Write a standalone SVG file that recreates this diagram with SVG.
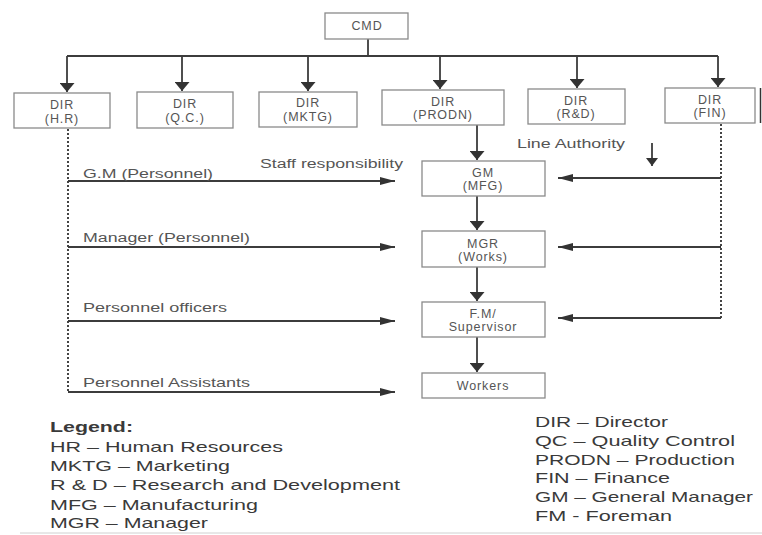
<svg xmlns="http://www.w3.org/2000/svg" width="762" height="535" viewBox="0 0 762 535">
  <style>
    .box { fill: #ffffff; stroke: #8a8a8a; stroke-width: 1.3; }
    .bt { font-family: "Liberation Sans", Arial, sans-serif; font-size: 12.5px; fill: #555; text-anchor: middle; letter-spacing: 0.9px; }
    .lbl { font-family: "Liberation Sans", Arial, sans-serif; font-size: 12px; fill: #555; }
    .leg { font-family: "Liberation Sans", Arial, sans-serif; font-size: 14.5px; fill: #3a3a3a; }
    .line { stroke: #3c3c3c; stroke-width: 1.8; fill: none; }
    .dot { stroke: #444; stroke-width: 2; stroke-dasharray: 2 2; fill: none; }
  </style>
  <defs>
    <marker id="down" markerUnits="userSpaceOnUse" viewBox="0 0 9 15" markerWidth="9" markerHeight="15" refX="9" refY="7.5" orient="auto">
      <path d="M0,0 L9,7.5 L0,15 z" fill="#333"/>
    </marker>
    <marker id="side" markerUnits="userSpaceOnUse" viewBox="0 0 15 8" markerWidth="15" markerHeight="8" refX="15" refY="4" orient="auto">
      <path d="M0,0 L15,4 L0,8 z" fill="#333"/>
    </marker>
    <marker id="small" markerUnits="userSpaceOnUse" viewBox="0 0 8 12" markerWidth="8" markerHeight="12" refX="8" refY="6" orient="auto">
      <path d="M0,0 L8,6 L0,12 z" fill="#333"/>
    </marker>
  </defs>

  <rect width="762" height="535" fill="#ffffff"/>

  <!-- connectors -->
  <g id="connectors">
    <!-- CMD to directors -->
    <line class="line" x1="368" y1="39" x2="368" y2="56"/>
    <line class="line" x1="67" y1="56" x2="718" y2="56"/>
    <line class="line" x1="67" y1="56" x2="67" y2="92" marker-end="url(#down)"/>
    <line class="line" x1="182" y1="56" x2="182" y2="91" marker-end="url(#down)"/>
    <line class="line" x1="308" y1="56" x2="308" y2="91" marker-end="url(#down)"/>
    <line class="line" x1="440" y1="56" x2="440" y2="89" marker-end="url(#down)"/>
    <line class="line" x1="577" y1="56" x2="577" y2="88" marker-end="url(#down)"/>
    <line class="line" x1="718" y1="56" x2="718" y2="87" marker-end="url(#down)"/>

    <!-- line authority chain -->
    <line class="line" x1="477" y1="125" x2="477" y2="160" marker-end="url(#down)"/>
    <line class="line" x1="477" y1="196" x2="477" y2="230" marker-end="url(#down)"/>
    <line class="line" x1="477" y1="267" x2="477" y2="301" marker-end="url(#down)"/>
    <line class="line" x1="477" y1="337" x2="477" y2="372" marker-end="url(#down)"/>
    <line class="line" x1="652" y1="143" x2="652" y2="166" stroke-width="1.5" marker-end="url(#small)"/>

    <!-- staff responsibility from DIR (H.R) -->
    <line class="dot" x1="68" y1="129" x2="68" y2="393"/>
    <line class="line" x1="68" y1="181" x2="395" y2="181" stroke-width="1.6" marker-end="url(#side)"/>
    <line class="line" x1="68" y1="247" x2="395" y2="247" stroke-width="1.6" marker-end="url(#side)"/>
    <line class="line" x1="68" y1="321" x2="395" y2="321" stroke-width="1.6" marker-end="url(#side)"/>
    <line class="line" x1="68" y1="392" x2="395" y2="392" stroke-width="1.6" marker-end="url(#side)"/>

    <!-- finance links -->
    <line class="dot" x1="721" y1="124" x2="721" y2="318"/>
    <line class="line" x1="721" y1="178" x2="558" y2="178" stroke-width="1.6" marker-end="url(#side)"/>
    <line class="line" x1="721" y1="247" x2="558" y2="247" stroke-width="1.6" marker-end="url(#side)"/>
    <line class="line" x1="721" y1="318" x2="558" y2="318" stroke-width="1.6" marker-end="url(#side)"/>
  </g>

  <!-- nodes -->
  <g id="cmd">
    <rect class="box" x="325" y="13" width="83" height="26"/>
    <text class="bt" x="367" y="30" font-size="10">CMD</text>
  </g>
  <g id="dir-hr">
    <rect class="box" x="14" y="93" width="96" height="35"/>
    <text class="bt" x="62" y="109">DIR</text>
    <text class="bt" x="62" y="123">(H.R)</text>
  </g>
  <g id="dir-qc">
    <rect class="box" x="137" y="92" width="96" height="36"/>
    <text class="bt" x="185" y="108">DIR</text>
    <text class="bt" x="185" y="122">(Q.C.)</text>
  </g>
  <g id="dir-mktg">
    <rect class="box" x="259" y="92" width="98" height="35"/>
    <text class="bt" x="308" y="107">DIR</text>
    <text class="bt" x="308" y="121">(MKTG)</text>
  </g>
  <g id="dir-prodn">
    <rect class="box" x="382" y="90" width="122" height="35"/>
    <text class="bt" x="443" y="106">DIR</text>
    <text class="bt" x="443" y="119">(PRODN)</text>
  </g>
  <g id="dir-rd">
    <rect class="box" x="528" y="89" width="97" height="35"/>
    <text class="bt" x="576" y="105">DIR</text>
    <text class="bt" x="576" y="118">(R&amp;D)</text>
  </g>
  <g id="dir-fin">
    <rect class="box" x="665" y="88" width="90" height="35"/>
    <text class="bt" x="710" y="104">DIR</text>
    <text class="bt" x="710" y="117">(FIN)</text>
  </g>
  <g id="gm">
    <rect class="box" x="422" y="161" width="123" height="35"/>
    <text class="bt" x="483" y="177">GM</text>
    <text class="bt" x="483" y="190">(MFG)</text>
  </g>
  <g id="mgr">
    <rect class="box" x="422" y="231" width="123" height="36"/>
    <text class="bt" x="483" y="248">MGR</text>
    <text class="bt" x="483" y="261">(Works)</text>
  </g>
  <g id="fm">
    <rect class="box" x="422" y="302" width="123" height="35"/>
    <text class="bt" x="483" y="318">F.M/</text>
    <text class="bt" x="483" y="331">Supervisor</text>
  </g>
  <g id="workers">
    <rect class="box" x="422" y="373" width="123" height="25"/>
    <text class="bt" x="483" y="390">Workers</text>
  </g>

  <!-- connector labels -->
  <g id="labels">
    <text class="lbl" x="260" y="168" textLength="143" lengthAdjust="spacingAndGlyphs">Staff responsibility</text>
    <text class="lbl" x="517" y="148" textLength="108" lengthAdjust="spacingAndGlyphs">Line Authority</text>
    <text class="lbl" x="83" y="178" textLength="130" lengthAdjust="spacingAndGlyphs">G.M (Personnel)</text>
    <text class="lbl" x="83" y="242" textLength="167" lengthAdjust="spacingAndGlyphs">Manager (Personnel)</text>
    <text class="lbl" x="83" y="312" textLength="144" lengthAdjust="spacingAndGlyphs">Personnel officers</text>
    <text class="lbl" x="83" y="387" textLength="167" lengthAdjust="spacingAndGlyphs">Personnel Assistants</text>
  </g>

  <!-- legend -->
  <g id="legend">
    <text class="leg" x="50" y="432" font-weight="bold" textLength="83" lengthAdjust="spacingAndGlyphs">Legend:</text>
    <text class="leg" x="50" y="452" textLength="233" lengthAdjust="spacingAndGlyphs">HR – Human Resources</text>
    <text class="leg" x="50" y="471" textLength="180" lengthAdjust="spacingAndGlyphs">MKTG – Marketing</text>
    <text class="leg" x="50" y="490" textLength="350" lengthAdjust="spacingAndGlyphs">R &amp; D – Research and Development</text>
    <text class="leg" x="50" y="510" textLength="208" lengthAdjust="spacingAndGlyphs">MFG – Manufacturing</text>
    <text class="leg" x="50" y="528" textLength="158" lengthAdjust="spacingAndGlyphs">MGR – Manager</text>

    <text class="leg" x="535" y="427" textLength="133" lengthAdjust="spacingAndGlyphs">DIR – Director</text>
    <text class="leg" x="535" y="446" textLength="200" lengthAdjust="spacingAndGlyphs">QC – Quality Control</text>
    <text class="leg" x="535" y="465" textLength="200" lengthAdjust="spacingAndGlyphs">PRODN – Production</text>
    <text class="leg" x="535" y="483" textLength="135" lengthAdjust="spacingAndGlyphs">FIN – Finance</text>
    <text class="leg" x="535" y="502" textLength="218" lengthAdjust="spacingAndGlyphs">GM – General Manager</text>
    <text class="leg" x="535" y="521" textLength="137" lengthAdjust="spacingAndGlyphs">FM - Foreman</text>
  </g>

  <!-- page edges -->
  <line x1="760.5" y1="88" x2="760.5" y2="123" stroke="#333" stroke-width="1.5"/>
  <line x1="20" y1="533" x2="762" y2="533" stroke="#d0d0d0" stroke-width="1"/>
</svg>
